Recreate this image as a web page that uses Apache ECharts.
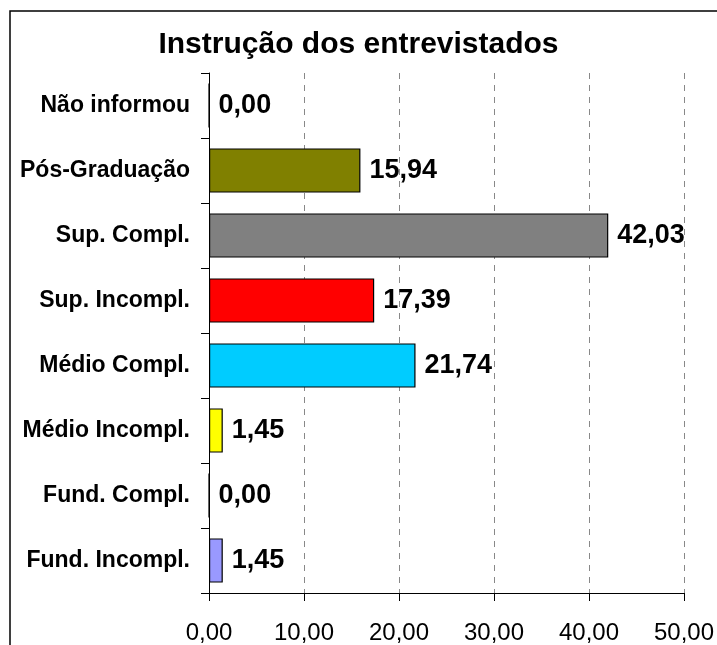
<!DOCTYPE html>
<html>
<head>
<meta charset="utf-8">
<script src="https://cdn.jsdelivr.net/npm/echarts@6/dist/echarts.min.js"></script>
<style>
    html, body { margin: 0; padding: 0; background: #fff; }
    #chart { width: 717px; height: 645px; }
</style>
</head>
<body>
<div id="chart"></div>
<script>
    // categories from bottom to top
    var categories = ['Fund. Incompl.', 'Fund. Compl.', 'Médio Incompl.', 'Médio Compl.',
        'Sup. Incompl.', 'Sup. Compl.', 'Pós-Graduação', 'Não informou'];
    var values = [1.45, 0.00, 1.45, 21.74, 17.39, 42.03, 15.94, 0.00];
    var barColors = ['#9999FF', '#9999FF', '#FFFF00', '#00CCFF', '#FF0000', '#808080', '#808000', '#808000'];

    function fmt(v) {
        return Number(v).toFixed(2).replace('.', ',');
    }

    var chart = echarts.init(document.getElementById('chart'));

    var data = [];
    for (var i = 0; i < values.length; i++) {
        data.push({
            value: values[i],
            itemStyle: { color: barColors[i] }
        });
    }

    var option = {
        animation: false,
        backgroundColor: '#fff',
        title: {
            text: 'Instrução dos entrevistados',
            left: 'center',
            top: 25,
            textStyle: {
                fontFamily: 'Liberation Sans, Arial',
                fontSize: 30,
                fontWeight: 'bold',
                color: '#000'
            }
        },
        graphic: [{
            type: 'rect',
            shape: { x: 10, y: 11, width: 720, height: 660 },
            style: { fill: 'none', stroke: '#000', lineWidth: 1.5 },
            silent: true
        }],
        grid: {
            left: 209,
            right: 33,
            top: 73,
            bottom: 52
        },
        xAxis: {
            type: 'value',
            min: 0,
            max: 50,
            interval: 10,
            axisLine: { show: true, lineStyle: { color: '#000', width: 1 } },
            axisTick: { show: true, length: 8, lineStyle: { color: '#000' } },
            axisLabel: {
                margin: 28,
                fontFamily: 'Liberation Sans, Arial',
                fontSize: 24,
                color: '#000',
                formatter: fmt
            },
            splitLine: {
                show: true,
                lineStyle: { color: '#888', type: [6, 6], width: 1 }
            }
        },
        yAxis: {
            type: 'category',
            data: categories,
            axisLine: { show: true, onZero: false, lineStyle: { color: '#000', width: 1 } },
            axisTick: { show: true, length: 8, lineStyle: { color: '#000' } },
            axisLabel: {
                margin: 19,
                fontFamily: 'Liberation Sans, Arial',
                fontSize: 23,
                fontWeight: 'bold',
                color: '#000'
            },
            splitLine: { show: false }
        },
        series: [{
            type: 'bar',
            data: data,
            barCategoryGap: '32%',
            itemStyle: { borderColor: '#000', borderWidth: 1.2 },
            label: {
                show: true,
                position: 'right',
                distance: 9,
                fontFamily: 'Liberation Sans, Arial',
                fontSize: 27,
                fontWeight: 'bold',
                color: '#000',
                formatter: function (p) { return fmt(p.value); }
            }
        }]
    };

    chart.setOption(option);
</script>
</body>
</html>
